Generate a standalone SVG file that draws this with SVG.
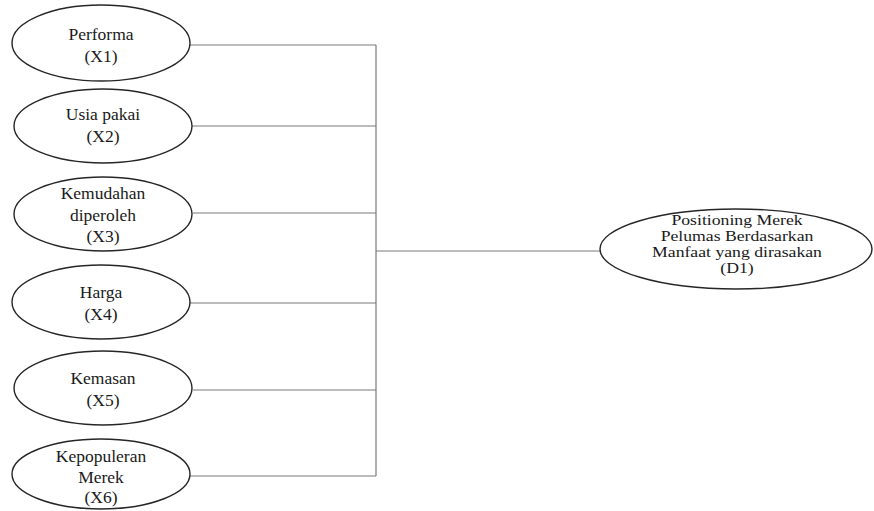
<svg xmlns="http://www.w3.org/2000/svg" width="874" height="511" viewBox="0 0 874 511">
  <style>
    .node ellipse { fill: #ffffff; stroke: #262626; stroke-width: 1.4; }
    .node text { font-family: "Liberation Serif", "Times New Roman", serif; font-size: 17.5px; fill: #1a1a1a; text-anchor: middle; }
    .goal text { font-size: 15px; }
    #connectors path { fill: none; stroke: #7a7a7a; stroke-width: 1.2; }
  </style>
  <rect width="874" height="511" fill="#ffffff"/>

  <g id="connectors">
    <path d="M190,45 H376"/>
    <path d="M192,126 H376"/>
    <path d="M193,213 H376"/>
    <path d="M190,303 H376"/>
    <path d="M193,390 H376"/>
    <path d="M190,476 H376"/>
    <path d="M376,45 V476"/>
    <path d="M376,251 H601"/>
  </g>

  <g id="x1" class="node">
    <ellipse cx="101" cy="43" rx="89" ry="38"/>
    <text x="101" y="40">Performa</text>
    <text x="101" y="62">(X1)</text>
  </g>

  <g id="x2" class="node">
    <ellipse cx="103" cy="126" rx="89" ry="37"/>
    <text x="103" y="120">Usia pakai</text>
    <text x="103" y="142">(X2)</text>
  </g>

  <g id="x3" class="node">
    <ellipse cx="103" cy="214" rx="89" ry="37"/>
    <text x="103" y="199">Kemudahan</text>
    <text x="103" y="221">diperoleh</text>
    <text x="103" y="242">(X3)</text>
  </g>

  <g id="x4" class="node">
    <ellipse cx="101" cy="302" rx="89" ry="37"/>
    <text x="101" y="298">Harga</text>
    <text x="101" y="320">(X4)</text>
  </g>

  <g id="x5" class="node">
    <ellipse cx="103" cy="388" rx="89" ry="37"/>
    <text x="103" y="384">Kemasan</text>
    <text x="103" y="406">(X5)</text>
  </g>

  <g id="x6" class="node">
    <ellipse cx="101" cy="474" rx="89" ry="35"/>
    <text x="101" y="462">Kepopuleran</text>
    <text x="101" y="483">Merek</text>
    <text x="101" y="503">(X6)</text>
  </g>

  <g id="d1" class="node goal">
    <ellipse cx="736" cy="249" rx="136" ry="40"/>
    <!-- label set slightly wide, as in the printed figure -->
    <g transform="translate(737,0) scale(1.18,1) translate(-737,0)">
      <text x="737" y="225">Positioning Merek</text>
      <text x="737" y="241">Pelumas Berdasarkan</text>
      <text x="737" y="257">Manfaat yang dirasakan</text>
      <text x="737" y="273">(D1)</text>
    </g>
  </g>
</svg>
